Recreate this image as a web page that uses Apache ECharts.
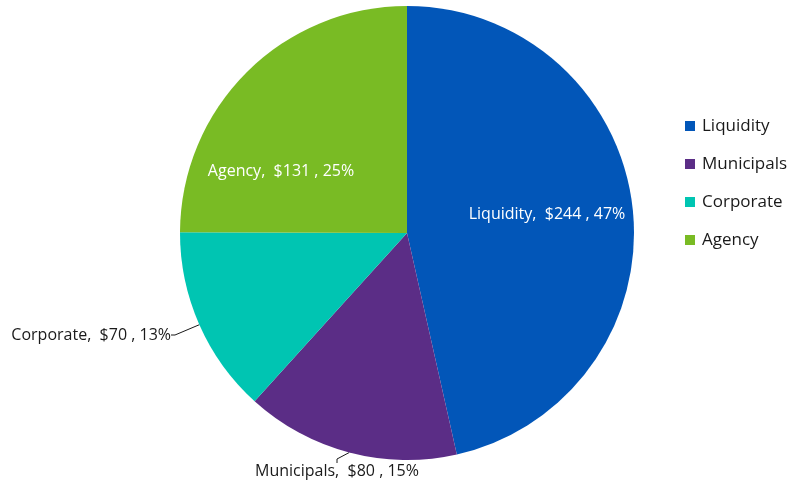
<!DOCTYPE html>
<html>
<head>
<meta charset="utf-8">
<script src="https://cdn.jsdelivr.net/npm/echarts@6/dist/echarts.min.js"></script>
<style>
  html, body { margin: 0; padding: 0; background: #fff; }
  #main { width: 796px; height: 487px; }
</style>
</head>
<body>
<div id="main"></div>
<script>
var categories = ['Liquidity', 'Municipals', 'Corporate', 'Agency'];
var values = [244, 80, 70, 131];
var colors = ['#0256b8', '#5b2d86', '#00c5b2', '#79bb24'];

// where excel put each label (text anchor, not data)
var labelPos = [
    { x: 547, y: 214, align: 'center' },
    { x: 337, y: 471, align: 'center' },
    { x: 171, y: 335, align: 'right' },
    { x: 281, y: 171, align: 'center' }
];
var insideLabel = [true, false, false, true];

var myChart = echarts.init(document.getElementById('main'));

var pieData = categories.map(function (name, i) {
    return {
        name: name,
        value: values[i],
        itemStyle: { color: colors[i] },
        label: {
            position: insideLabel[i] ? 'inside' : 'outside',
            color: insideLabel[i] ? '#ffffff' : '#1a1a1a'
        },
        labelLine: { show: !insideLabel[i] }
    };
});

var option = {
    backgroundColor: '#ffffff',
    animation: false,
    legend: {
        orient: 'vertical',
        left: 680,
        top: 109,
        itemWidth: 10,
        itemHeight: 10,
        itemGap: 14,
        icon: 'rect',
        textStyle: { fontFamily: 'Open Sans', fontSize: 17, color: '#1a1a1a', lineHeight: 24, padding: [0, 0, 0, 2] },
        data: categories
    },
    series: [{
        type: 'pie',
        center: [407, 233],
        radius: 227,
        startAngle: 90,
        clockwise: true,
        percentPrecision: 0,
        label: {
            formatter: '{b},  ${c} , {d}%',
            fontFamily: 'Open Sans',
            fontSize: 16
        },
        labelLine: {
            length: 8,
            length2: 4,
            lineStyle: { color: '#1a1a1a', width: 1 }
        },
        labelLayout: function (params) {
            var p = labelPos[params.dataIndex];
            return { x: p.x, y: p.y, align: p.align, verticalAlign: 'middle' };
        },
        data: pieData
    }]
};

myChart.setOption(option);
</script>
</body>
</html>
